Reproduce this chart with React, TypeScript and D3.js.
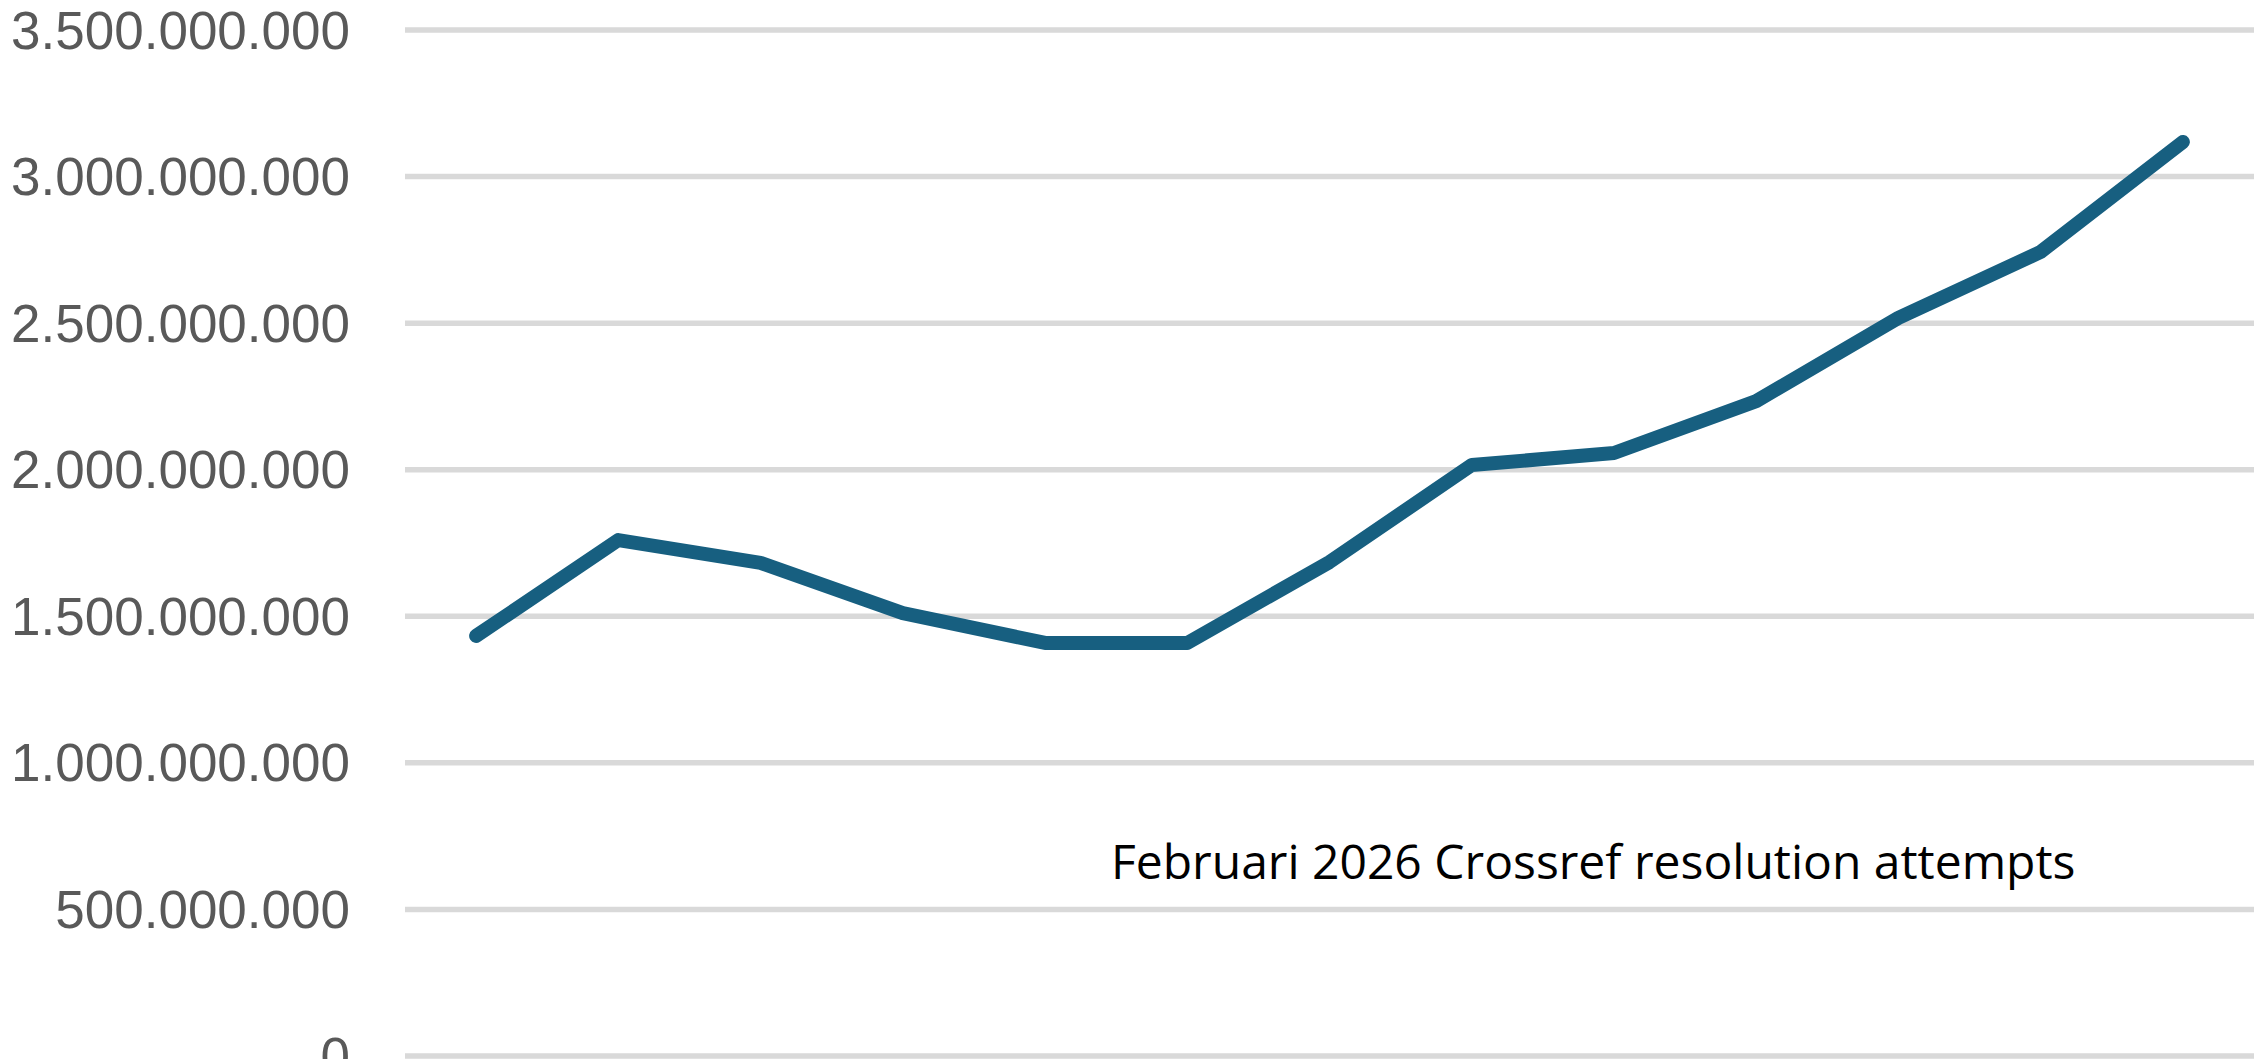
import { useEffect, useRef } from "react"
import * as d3 from "d3"

// Monthly Crossref resolution attempts (13 months, ending Feb 2026)
const months = [
  "Feb 2025",
  "Mar 2025",
  "Apr 2025",
  "May 2025",
  "Jun 2025",
  "Jul 2025",
  "Aug 2025",
  "Sep 2025",
  "Oct 2025",
  "Nov 2025",
  "Dec 2025",
  "Jan 2026",
  "Feb 2026",
]

const attempts = [
  1433000000, 1760000000, 1682000000, 1511000000, 1409000000, 1409000000, 1685000000,
  2016000000, 2057000000, 2234000000, 2518000000, 2743000000, 3118000000,
]

const yTicks = [0, 500000000, 1000000000, 1500000000, 2000000000, 2500000000, 3000000000, 3500000000]

const chartTitle = "Februari 2026 Crossref resolution attempts"

export default function App() {
  const svgRef = useRef<SVGSVGElement>(null)

  useEffect(() => {
    if (!svgRef.current) return

    d3.select(svgRef.current).selectAll("*").remove()

    const width = 2254
    const height = 1059
    const plot = { left: 405, right: 2254, top: 30, bottom: 1056 }

    const svg = d3.select(svgRef.current).attr("width", width).attr("height", height)

    const x = d3.scalePoint<string>().domain(months).range([plot.left, plot.right]).padding(0.5)

    const y = d3.scaleLinear().domain([0, 3500000000]).range([plot.bottom, plot.top])

    // Dutch style number formatting: 3.500.000.000
    const locale = d3.formatLocale({ decimal: ",", thousands: ".", grouping: [3], currency: ["€", ""] })
    const fmt = locale.format(",.0f")

    // Gridlines
    svg
      .append("g")
      .selectAll("line")
      .data(yTicks)
      .enter()
      .append("line")
      .attr("x1", plot.left)
      .attr("x2", plot.right + 10)
      .attr("y1", (d) => y(d))
      .attr("y2", (d) => y(d))
      .attr("stroke", "#d9d9d9")
      .attr("stroke-width", 5.5)

    // Y axis labels
    svg
      .append("g")
      .selectAll("text")
      .data(yTicks)
      .enter()
      .append("text")
      .attr("x", 350)
      .attr("y", (d) => y(d))
      .attr("dy", "0.35em")
      .attr("text-anchor", "end")
      .attr("fill", "#595959")
      .style("font-family", "'Liberation Sans', Arial, sans-serif")
      .style("font-size", "53px")
      .text((d) => fmt(d))

    // Line
    const line = d3
      .line<number>()
      .x((_, i) => x(months[i]) as number)
      .y((d) => y(d))

    svg
      .append("path")
      .datum(attempts)
      .attr("d", line)
      .attr("fill", "none")
      .attr("stroke", "#175f80")
      .attr("stroke-width", 14)
      .attr("stroke-linejoin", "round")
      .attr("stroke-linecap", "round")

    // Chart title inside the plot
    svg
      .append("text")
      .attr("x", 1111)
      .attr("y", 879)
      .attr("fill", "#000000")
      .style("font-family", "'Open Sans', sans-serif")
      .style("font-size", "48px")
      .text(chartTitle)
  }, [])

  return (
    <div style={{ position: "fixed", left: 0, top: 0, width: 2254, height: 1059, overflow: "hidden", background: "#fff" }}>
      <svg ref={svgRef} style={{ display: "block" }}></svg>
    </div>
  )
}
